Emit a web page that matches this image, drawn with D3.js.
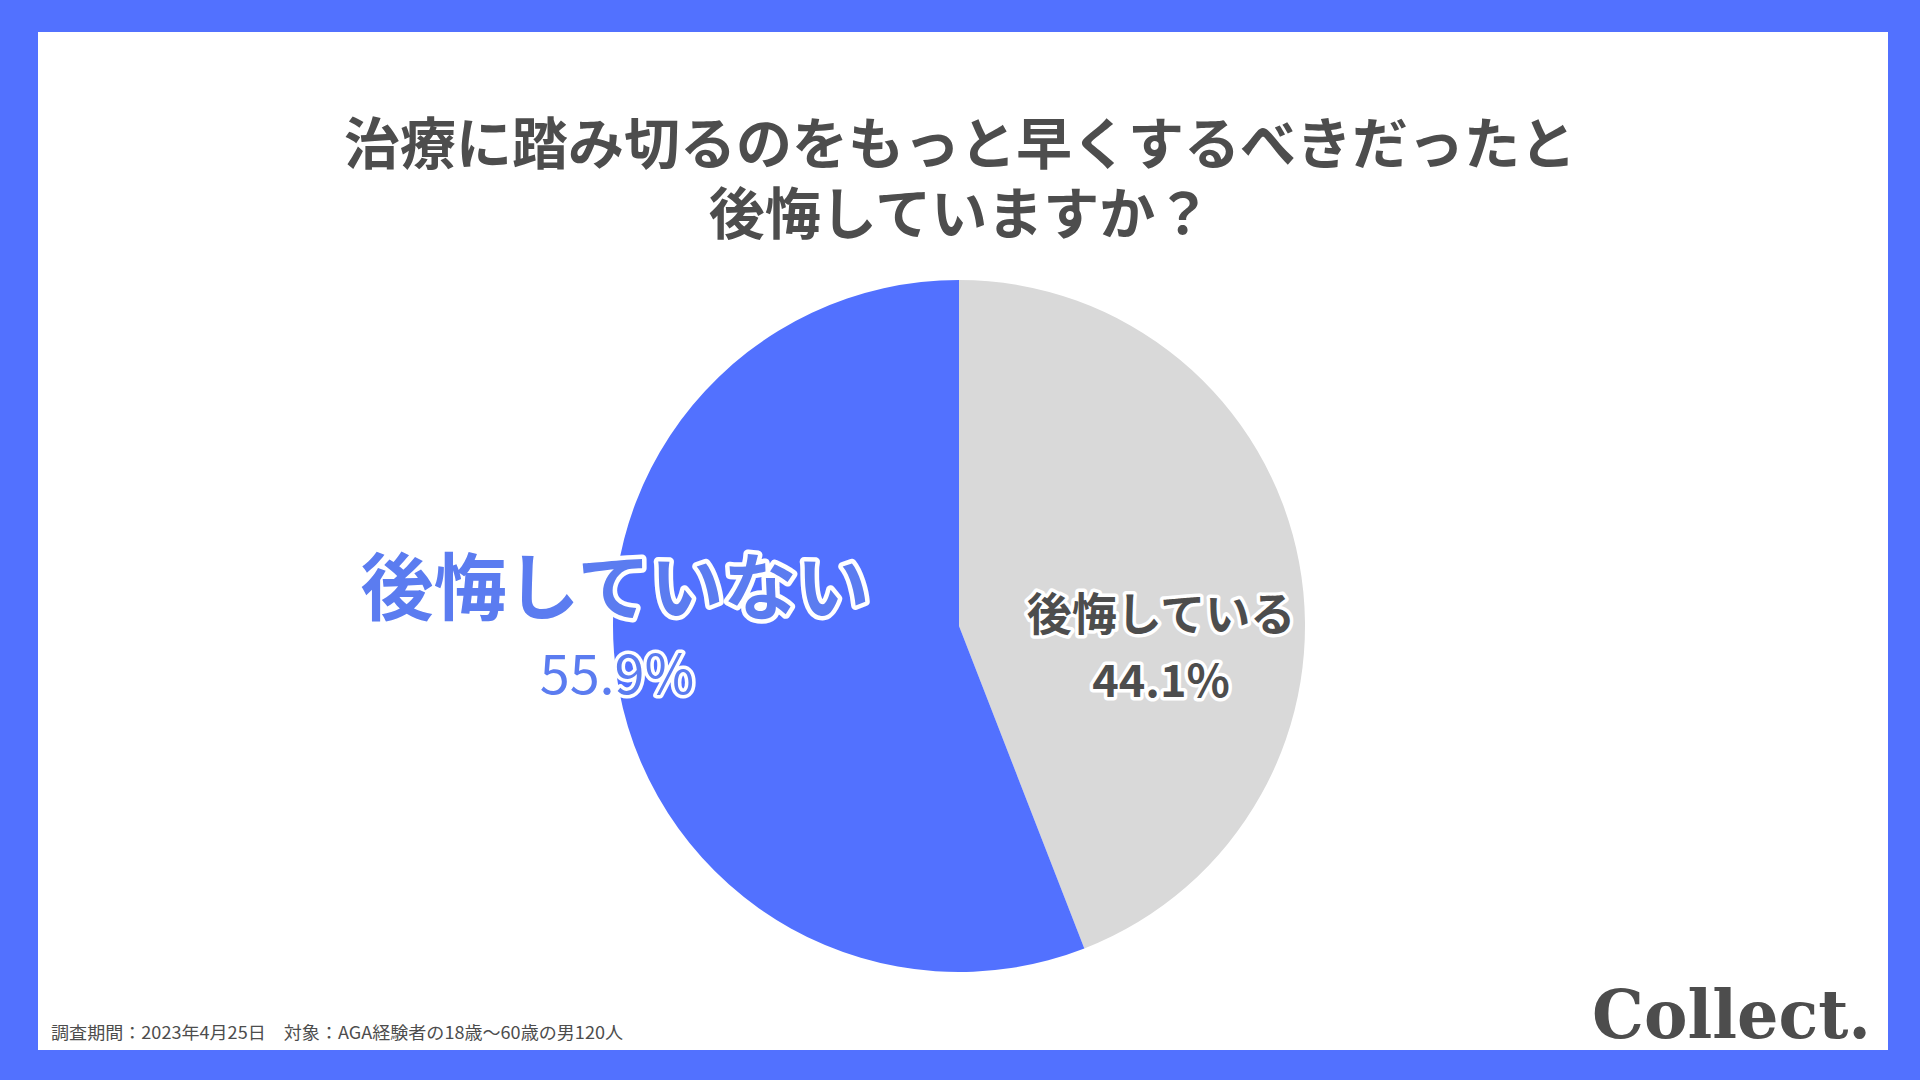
<!DOCTYPE html>
<html><head><meta charset="utf-8">
<script src="https://cdn.jsdelivr.net/npm/d3@7"></script>
<style>
html,body{margin:0;padding:0;background:#5271ff;}
svg{display:block;}
</style></head>
<body>
<svg id="chart" width="1920" height="1080"></svg>
<script>
const titleLines = ["治療に踏み切るのをもっと早くするべきだったと", "後悔していますか？"];
const categories = ["後悔している", "後悔していない"];
const values = [44.1, 55.9];
const valueLabels = ["44.1%", "55.9%"];
const colors = ["#d9d9d9", "#5271ff"];
const footnote = "調査期間：2023年4月25日　対象：AGA経験者の18歳〜60歳の男120人";
const brand = "Collect.";

const svg = d3.select("#chart");
const font = "'Noto Sans CJK JP','Noto Sans',sans-serif";

svg.append("rect").attr("x",0).attr("y",0).attr("width",1920).attr("height",1080).attr("fill","#5271ff");
svg.append("rect").attr("x",38).attr("y",32).attr("width",1850).attr("height",1018).attr("fill","#ffffff");

// title (one text element, two lines)
const title = svg.append("text")
  .attr("text-anchor","middle")
  .attr("font-family",font).attr("font-weight",700).attr("font-size",56)
  .attr("fill","#4d4d4d");
title.selectAll("tspan").data(titleLines).join("tspan")
  .attr("x",960).attr("y",(d,i)=>164+i*70).text(d=>d);

// pie
const cx = 959, cy = 626, r = 346;
const data = categories.map((c,i)=>({cat:c, value:values[i], label:valueLabels[i], color:colors[i]}));
const pie = d3.pie().value(d=>d.value).sort(null);
const arc = d3.arc().innerRadius(0).outerRadius(r);
const g = svg.append("g").attr("transform",`translate(${cx},${cy})`);
g.selectAll("path").data(pie(data)).join("path")
  .attr("d",arc).attr("fill",d=>d.data.color);

// labels
const lab = svg.append("g").attr("font-family",font);
// 後悔している (gray slice)
lab.append("text").attr("x",1161).attr("y",631).attr("text-anchor","middle")
  .attr("font-weight",700).attr("font-size",45)
  .attr("fill","#4d4d4d").attr("stroke","#ffffff").attr("stroke-width",7)
  .attr("stroke-linejoin","round").attr("paint-order","stroke")
  .text(data[0].cat);
lab.append("text").attr("x",1161).attr("y",697).attr("text-anchor","middle")
  .attr("font-weight",700).attr("font-size",45)
  .attr("fill","#4d4d4d").attr("stroke","#ffffff").attr("stroke-width",7)
  .attr("stroke-linejoin","round").attr("paint-order","stroke")
  .text(data[0].label);
// 後悔していない (blue slice)
lab.append("text").attr("x",615).attr("y",614).attr("text-anchor","middle")
  .attr("font-weight",700).attr("font-size",73)
  .attr("fill","#5b7cf0").attr("stroke","#ffffff").attr("stroke-width",9)
  .attr("stroke-linejoin","round").attr("paint-order","stroke")
  .text(data[1].cat);
lab.append("text").attr("x",617).attr("y",694).attr("text-anchor","middle")
  .attr("font-weight",400).attr("font-size",54)
  .attr("fill","#5b7cf0").attr("stroke","#ffffff").attr("stroke-width",7)
  .attr("stroke-linejoin","round").attr("paint-order","stroke")
  .text(data[1].label);

// footnote
svg.append("text").attr("x",51).attr("y",1039)
  .attr("font-family","'Noto Sans CJK JP',sans-serif").attr("font-size",17)
  .attr("fill","#4d4d4d").attr("textLength",572).attr("lengthAdjust","spacingAndGlyphs")
  .text(footnote);

// brand
svg.append("text").attr("x",1871).attr("y",1038).attr("text-anchor","end")
  .attr("font-family","'DejaVu Serif',serif").attr("font-weight",700).attr("font-size",68)
  .attr("fill","#4d4d4d").attr("textLength",279).attr("lengthAdjust","spacingAndGlyphs")
  .text(brand);
</script>
</body></html>
